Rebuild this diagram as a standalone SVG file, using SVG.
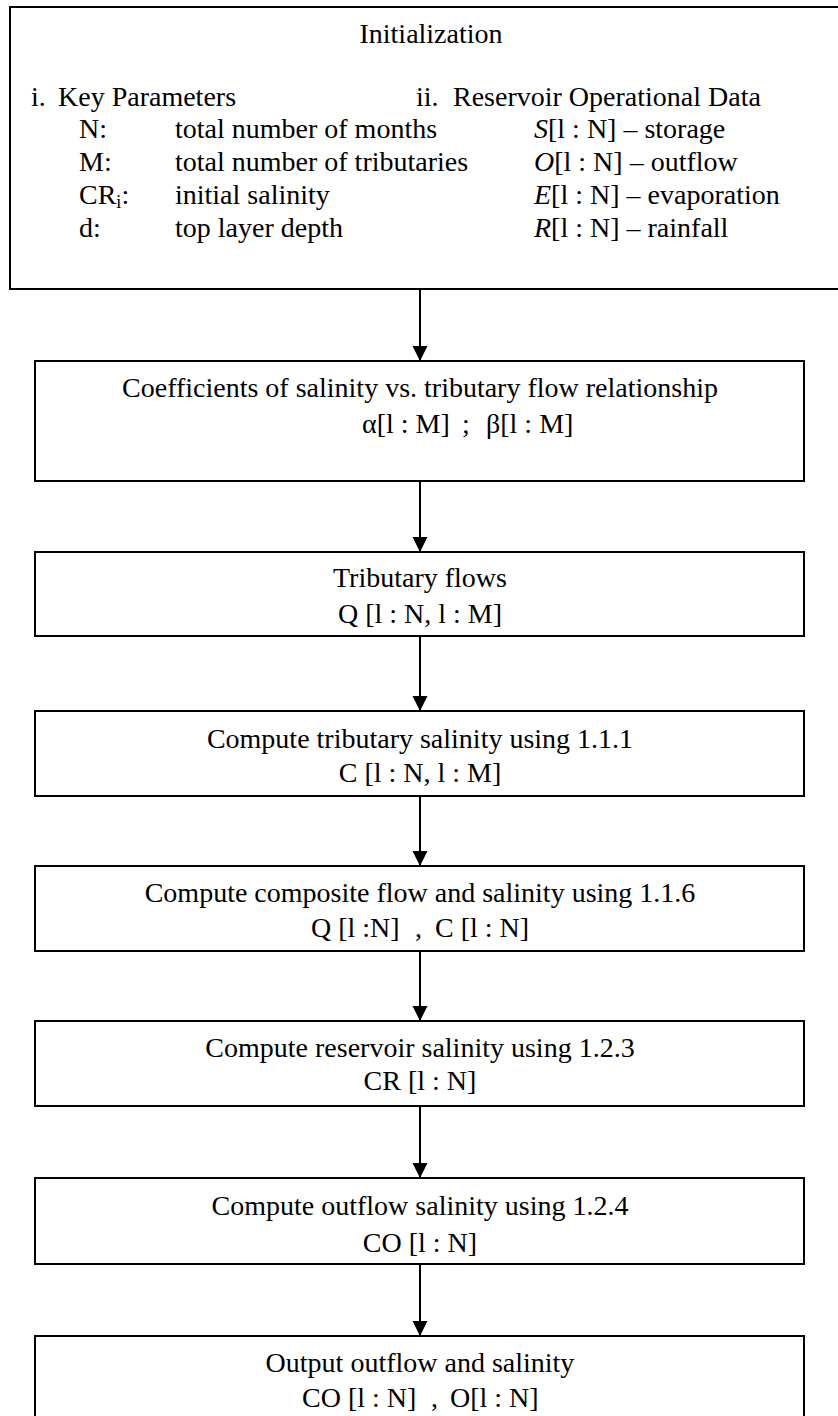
<svg xmlns="http://www.w3.org/2000/svg" width="838" height="1416" viewBox="0 0 838 1416">
<style>
text{font-family:"Liberation Serif","Times New Roman","DejaVu Serif",serif;font-size:28px;fill:#000}
.c{text-anchor:middle}
.box{fill:#fff;stroke:#000;stroke-width:2}
.conn line{stroke:#000;stroke-width:2}
</style>
<defs>
<marker id="ah" markerUnits="userSpaceOnUse" markerWidth="16" markerHeight="16" refX="15" refY="7.5" orient="auto">
<path d="M0,0 L15,7.5 L0,15 z" fill="#000"/>
</marker>
</defs>
<rect width="838" height="1416" fill="#fff"/>
<g id="init">
<rect class="box" x="10" y="7" width="850" height="282"/>
<text x="431" y="43" class="c">Initialization</text>
<text x="31" y="106">i.</text>
<text x="58" y="106">Key Parameters</text>
<text x="79" y="138">N:</text>
<text x="175" y="138">total number of months</text>
<text x="79" y="171">M:</text>
<text x="175" y="171">total number of tributaries</text>
<text x="79" y="204">CR<tspan font-size="18" dy="4">i</tspan><tspan dy="-4">:</tspan></text>
<text x="175" y="204">initial salinity</text>
<text x="79" y="237">d:</text>
<text x="175" y="237">top layer depth</text>
<text x="416" y="106">ii.</text>
<text x="453" y="106">Reservoir Operational Data</text>
<text x="534" y="138"><tspan font-style="italic">S</tspan>[l : N] – storage</text>
<text x="534" y="171"><tspan font-style="italic">O</tspan>[l : N] – outflow</text>
<text x="534" y="204"><tspan font-style="italic">E</tspan>[l : N] – evaporation</text>
<text x="534" y="237"><tspan font-style="italic">R</tspan>[l : N] – rainfall</text>
</g>
<g id="coef">
<rect class="box" x="35" y="361" width="769" height="120"/>
<text x="420" y="397" class="c">Coefficients of salinity vs. tributary flow relationship</text>
<text x="362" y="433">α[l : M]</text>
<text x="462" y="433">;</text>
<text x="486" y="433">β[l : M]</text>
</g>
<g id="tribflows">
<rect class="box" x="35" y="552" width="769" height="84"/>
<text x="420" y="587" class="c">Tributary flows</text>
<text x="420" y="623" class="c">Q [l : N, l : M]</text>
</g>
<g id="tribsal">
<rect class="box" x="35" y="711" width="769" height="85"/>
<text x="420" y="748" class="c">Compute tributary salinity using 1.1.1</text>
<text x="420" y="782" class="c">C [l : N, l : M]</text>
</g>
<g id="composite">
<rect class="box" x="35" y="866" width="769" height="85"/>
<text x="420" y="902" class="c">Compute composite flow and salinity using 1.1.6</text>
<text x="311" y="937">Q [l :N]</text>
<text x="415" y="937">,</text>
<text x="435" y="937">C [l : N]</text>
</g>
<g id="ressal">
<rect class="box" x="35" y="1021" width="769" height="85"/>
<text x="420" y="1057" class="c">Compute reservoir salinity using 1.2.3</text>
<text x="420" y="1090" class="c">CR [l : N]</text>
</g>
<g id="outsal">
<rect class="box" x="35" y="1178" width="769" height="86"/>
<text x="420" y="1215" class="c">Compute outflow salinity using 1.2.4</text>
<text x="420" y="1252" class="c">CO [l : N]</text>
</g>
<g id="output">
<rect class="box" x="35" y="1336" width="769" height="100"/>
<text x="420" y="1372" class="c">Output outflow and salinity</text>
<text x="302" y="1407">CO [l : N]</text>
<text x="431" y="1407">,</text>
<text x="450" y="1407">O[l : N]</text>
</g>
<g id="connectors" class="conn">
<line x1="420" y1="289" x2="420" y2="361" marker-end="url(#ah)"/>
<line x1="420" y1="481" x2="420" y2="552" marker-end="url(#ah)"/>
<line x1="420" y1="636" x2="420" y2="711" marker-end="url(#ah)"/>
<line x1="420" y1="796" x2="420" y2="866" marker-end="url(#ah)"/>
<line x1="420" y1="951" x2="420" y2="1021" marker-end="url(#ah)"/>
<line x1="420" y1="1106" x2="420" y2="1178" marker-end="url(#ah)"/>
<line x1="420" y1="1264" x2="420" y2="1336" marker-end="url(#ah)"/>
</g>
</svg>
